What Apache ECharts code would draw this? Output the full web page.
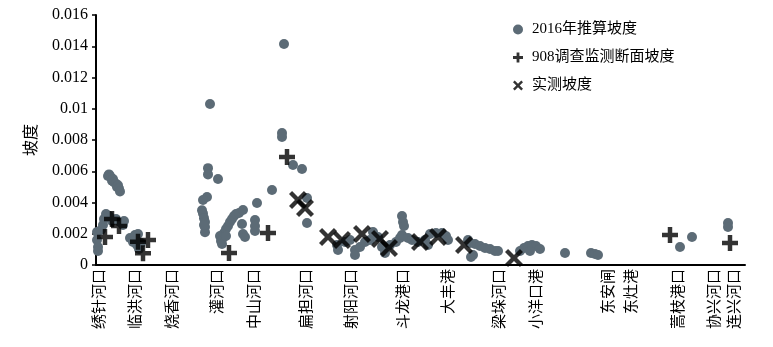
<!DOCTYPE html>
<html><head><meta charset="utf-8">
<script src="https://cdn.jsdelivr.net/npm/echarts@6/dist/echarts.min.js"></script>
<style>html,body{margin:0;padding:0;background:#fff}#c{width:773px;height:347px}</style>
</head><body><div id="c"></div><script>
// x-axis site labels and their positions along the coast (axis units)
const siteNames = ['绣针河口','临洪河口','烧香河口','灌河口','中山河口','扁担河口','射阳河口','斗龙港口','大丰港','梁垛河口','小洋口港','东安闸','东灶港','蒿枝港口','协兴河口','连兴河口'];
const sitePos = [2,38,75,120,157,209,254,306,351,402,439,511,534,581,617,637];

// 2016年推算坡度
const calcX = [1,1,2,2,5,7,8,10,13,16,20,24,27,28,
  12,13,14,15,16,17,18,20,21,22,23,24,
  34,37,39,40,41,42,43,45,
  114,112,112,122,111,107,106,107,108,109,109,109,108,
  124,125,127,128,130,132,134,136,138,140,143,147,126,130,146,147,149,159,159,159,161,176,
  188,186,186,197,206,211,211,
  241,242,249,254,259,259,264,269,274,277,282,286,289,294,300,304,306,307,308,306,312,316,322,329,334,340,346,350,352,332,
  372,374,377,379,384,389,394,399,402,375,
  424,428,432,436,440,444,434,469,495,499,502,
  584,596,632,632];
const calcY = [0.00211,0.0016,0.00115,0.0009,0.00224,0.00256,0.00294,0.00326,0.00314,0.00282,0.00294,0.00275,0.00256,0.00282,
  0.0057,0.0058,0.0057,0.0056,0.0054,0.0055,0.0053,0.0052,0.0050,0.0051,0.0049,0.0047,
  0.00173,0.00147,0.00192,0.0016,0.00128,0.00198,0.00102,0.00141,
  0.0103,0.0062,0.0058,0.0055,0.00435,0.00416,0.0035,0.0033,0.003,0.00275,0.00243,0.0021,0.00256,
  0.00186,0.00154,0.00173,0.00205,0.0023,0.0025,0.00275,0.00294,0.00314,0.00326,0.00333,0.00352,0.00134,0.00186,0.00262,0.00198,0.00179,0.00288,0.0025,0.00218,0.00397,0.0048,
  0.01414,0.00845,0.0082,0.0064,0.00614,0.00429,0.00269,
  0.00128,0.00096,0.00147,0.0016,0.00096,0.00064,0.00115,0.00147,0.0016,0.00211,0.00179,0.00115,0.00077,0.00128,0.00147,0.00173,0.00314,0.00275,0.0025,0.00192,0.00173,0.0016,0.00147,0.0016,0.00198,0.00205,0.00205,0.00186,0.0016,0.00128,
  0.0016,0.00141,0.00064,0.00134,0.00122,0.00109,0.00102,0.0009,0.0009,0.00051,
  0.0009,0.00109,0.00122,0.00128,0.00122,0.00102,0.0009,0.00077,0.00077,0.0007,0.00064,
  0.00115,0.00179,0.00269,0.00243];

// 908调查监测断面坡度
const survX = [9,16,23,42,52,47,133,172,191,574,634];
const survY = [0.00179,0.00294,0.0025,0.00149,0.0016,0.00075,0.00077,0.00205,0.00691,0.00192,0.00141];

// 实测坡度
const measX = [202,209,232,246,266,284,293,324,342,368,418];
const measY = [0.00416,0.00365,0.00179,0.0016,0.00198,0.00166,0.00109,0.00147,0.00179,0.00128,0.00045];

const yTicks = [0,0.002,0.004,0.006,0.008,0.01,0.012,0.014,0.016];

const zip = (a,b)=>a.map((v,i)=>[v,b[i]]);
const PLUS = 'path://M3.6,0H6.4V3.6H10V6.4H6.4V10H3.6V6.4H0V3.6H3.6Z';
const CROSS = 'path://M1.7,0L5,3.3L8.3,0L10,1.7L6.7,5L10,8.3L8.3,10L5,6.7L1.7,10L0,8.3L3.3,5L0,1.7Z';
const FONT = "'Liberation Serif','Noto Sans CJK SC',serif";

const chart = echarts.init(document.getElementById('c'), null, {renderer:'canvas'});
chart.setOption({
  animation:false,
  backgroundColor:'#fff',
  textStyle:{fontFamily:FONT,color:'#000'},
  grid:{left:96,right:28,top:15,bottom:82,containLabel:false},
  legend:{
    orient:'vertical',left:508,top:17,itemGap:13,itemWidth:10,itemHeight:10,
    textStyle:{fontFamily:FONT,fontSize:15,color:'#000',padding:[0,0,0,4]},
    data:['2016年推算坡度','908调查监测断面坡度','实测坡度']
  },
  xAxis:{
    type:'value',min:0,max:649,
    splitLine:{show:false},
    axisTick:{show:false},
    axisLine:{onZero:false,lineStyle:{color:'#000',width:2}},
    axisLabel:{
      customValues:sitePos,rotate:90,margin:4,fontSize:15,color:'#000',
      fontFamily:"'Noto Sans CJK SC',sans-serif",
      formatter:v=>{const i=sitePos.indexOf(v);return i>=0?siteNames[i]:'';}
    }
  },
  yAxis:{
    type:'value',min:yTicks[0],max:yTicks[yTicks.length-1],interval:0.002,
    name:'坡度',nameLocation:'middle',nameGap:58,
    nameTextStyle:{fontSize:16,color:'#000',fontFamily:"'Noto Sans CJK SC',sans-serif"},
    splitLine:{show:false},
    axisLine:{show:true,lineStyle:{color:'#000',width:2}},
    axisTick:{show:true,inside:false,length:4,lineStyle:{color:'#000',width:1.5}},
    axisLabel:{margin:8,fontSize:16,color:'#000',fontFamily:FONT,
      formatter:v=>String(parseFloat(v.toFixed(3)))}
  },
  series:[
    {name:'2016年推算坡度',type:'scatter',symbol:'circle',symbolSize:10,
     itemStyle:{color:'#5c6b76',opacity:1},data:zip(calcX,calcY)},
    {name:'908调查监测断面坡度',type:'scatter',symbol:PLUS,symbolSize:16,
     itemStyle:{color:'#000'},data:zip(survX,survY)},
    {name:'实测坡度',type:'scatter',symbol:CROSS,symbolSize:18,
     itemStyle:{color:'#000'},data:zip(measX,measY)}
  ]
});
</script></body></html>
